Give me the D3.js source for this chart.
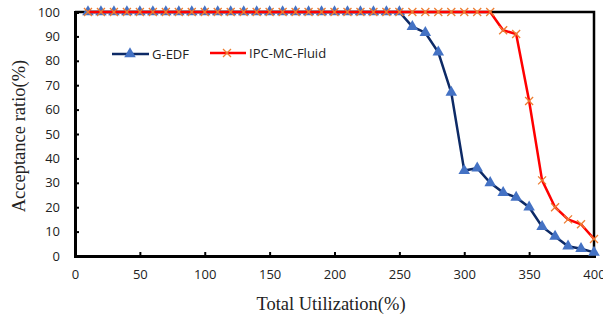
<!DOCTYPE html>
<html>
<head>
<meta charset="utf-8">
<style>
	body { margin: 0; background: #fff; }
	.tick text { font-family: 'Open Sans', 'Liberation Sans', sans-serif; font-size: 13px; fill: #222; }
	.title { font-family: 'Liberation Serif', 'DejaVu Serif', serif; font-size: 18.5px; fill: #222; }
	.legend { font-family: 'Open Sans', 'Liberation Sans', sans-serif; font-size: 13px; fill: #222; }
</style>
<script src="https://cdn.jsdelivr.net/npm/d3@7"></script>
</head>
<body>
<script>
// utilization (%) values along x
var utilization = [10, 20, 30, 40, 50, 60, 70, 80, 90, 100, 110, 120, 130, 140, 150, 160, 170, 180, 190, 200,
	210, 220, 230, 240, 250, 260, 270, 280, 290, 300, 310, 320, 330, 340, 350, 360, 370, 380, 390, 400];
var gedf = [100, 100, 100, 100, 100, 100, 100, 100, 100, 100, 100, 100, 100, 100, 100, 100, 100, 100, 100, 100,
	100, 100, 100, 100, 100, 94, 91.5, 83.5, 67, 35, 36, 30, 26, 24, 20, 12, 8, 4, 3, 1.5];
var ipc = [100, 100, 100, 100, 100, 100, 100, 100, 100, 100, 100, 100, 100, 100, 100, 100, 100, 100, 100, 100,
	100, 100, 100, 100, 100, 100, 100, 100, 100, 100, 100, 100, 92.5, 91, 63.5, 31, 20, 15, 13, 7];
var xTicks = [0, 50, 100, 150, 200, 250, 300, 350, 400];
var yTicks = [0, 10, 20, 30, 40, 50, 60, 70, 80, 90, 100];

var W = 603, H = 318;
var plotL = 75, plotR = 594, plotT = 12, plotB = 256;

var svg = d3.select("body").append("svg")
	.attr("width", W)
	.attr("height", H);

var x = d3.scaleLinear().domain([0, 400]).range([plotL, plotR]);
var y = d3.scaleLinear().domain([0, 100]).range([plotB, plotT]);

// frame (top and right)
svg.append("path")
	.attr("d", "M" + plotL + "," + plotT + "H" + plotR + "V" + plotB)
	.attr("fill", "none")
	.attr("stroke", "#000")
	.attr("stroke-width", 2.5);

var xAxis = svg.append("g")
	.attr("transform", "translate(0," + plotB + ")")
	.call(d3.axisBottom(x).tickValues(xTicks).tickSize(-4).tickPadding(14));
var yAxis = svg.append("g")
	.attr("transform", "translate(" + plotL + ",0)")
	.call(d3.axisLeft(y).tickValues(yTicks).tickSize(-4).tickPadding(15));

[xAxis, yAxis].forEach(function (a) {
	a.select(".domain").attr("stroke-width", 3).attr("stroke", "#000");
	a.selectAll(".tick line").attr("stroke-width", 2).attr("stroke", "#000");
});

var line = d3.line()
	.x(function (d) { return x(d[0]); })
	.y(function (d) { return y(d[1]); });

var gedfPts = utilization.map(function (u, i) { return [u, gedf[i]]; });
var ipcPts = utilization.map(function (u, i) { return [u, ipc[i]]; });

var tri = d3.symbol().type(d3.symbolTriangle).size(58);

function crossPath(s) {
	return "M" + (-s) + "," + (-s) + "L" + s + "," + s + "M" + (-s) + "," + s + "L" + s + "," + (-s);
}

// G-EDF
svg.append("path")
	.datum(gedfPts)
	.attr("d", line)
	.attr("fill", "none")
	.attr("stroke", "#0d2a66")
	.attr("stroke-width", 2.5);

svg.selectAll(".tri")
	.data(gedfPts)
	.enter().append("path")
	.attr("class", "tri")
	.attr("transform", function (d) { return "translate(" + x(d[0]) + "," + y(d[1]) + ")"; })
	.attr("d", tri)
	.attr("fill", "#4472c4");

// IPC-MC-Fluid
svg.append("path")
	.datum(ipcPts)
	.attr("d", line)
	.attr("fill", "none")
	.attr("stroke", "#ff0000")
	.attr("stroke-width", 2.5);

svg.selectAll(".crs")
	.data(ipcPts)
	.enter().append("path")
	.attr("class", "crs")
	.attr("transform", function (d) { return "translate(" + x(d[0]) + "," + y(d[1]) + ")"; })
	.attr("d", crossPath(4))
	.attr("stroke", "#ed7d31")
	.attr("stroke-width", 1.3)
	.attr("fill", "none");

// legend
var lg = svg.append("g");
lg.append("line").attr("x1", 112).attr("x2", 149).attr("y1", 54).attr("y2", 54)
	.attr("stroke", "#0d2a66").attr("stroke-width", 2.5);
lg.append("path").attr("transform", "translate(130,54)").attr("d", tri).attr("fill", "#4472c4");
lg.append("text").attr("class", "legend").attr("x", 152).attr("y", 58.5).text("G-EDF");

lg.append("line").attr("x1", 210).attr("x2", 246).attr("y1", 53).attr("y2", 53)
	.attr("stroke", "#ff0000").attr("stroke-width", 2.5);
lg.append("path").attr("transform", "translate(227,53)").attr("d", crossPath(4))
	.attr("stroke", "#ed7d31").attr("stroke-width", 1.3);
lg.append("text").attr("class", "legend").attr("x", 249).attr("y", 57.5).text("IPC-MC-Fluid");

// axis titles
svg.append("text").attr("class", "title")
	.attr("x", 331).attr("y", 310)
	.attr("text-anchor", "middle")
	.text("Total Utilization(%)");

svg.append("text").attr("class", "title")
	.attr("transform", "translate(25,136) rotate(-90)")
	.attr("text-anchor", "middle")
	.text("Acceptance ratio(%)");
</script>
</body>
</html>
